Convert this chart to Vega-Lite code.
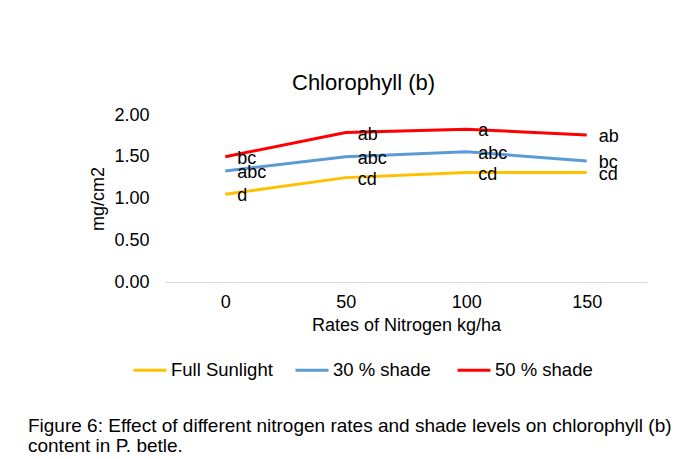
{
  "$schema": "https://vega.github.io/schema/vega-lite/v6.json",
  "background": "white",
  "padding": {"left": 27, "top": 72, "right": 5, "bottom": 5},
  "title": {
    "text": ["Figure 6: Effect of different nitrogen rates and shade levels on chlorophyll (b)", "content in P. betle."],
    "orient": "bottom",
    "anchor": "start",
    "frame": "bounds",
    "dx": -62,
    "fontSize": 19,
    "fontWeight": "normal",
    "color": "#000000",
    "lineHeight": 20,
    "offset": 37
  },
  "vconcat": [
    {
      "width": 482,
      "height": 167,
      "title": {"text": "Chlorophyll (b)", "anchor": "start", "frame": "group", "dx": 127, "offset": 11, "fontSize": 22, "fontWeight": "normal", "color": "#000000"},
      "data": {
        "values": [
          {"N": "0", "series": "Full Sunlight", "value": 1.05, "sig": "d"},
          {"N": "50", "series": "Full Sunlight", "value": 1.25, "sig": "cd"},
          {"N": "100", "series": "Full Sunlight", "value": 1.31, "sig": "cd"},
          {"N": "150", "series": "Full Sunlight", "value": 1.31, "sig": "cd"},
          {"N": "0", "series": "30 % shade", "value": 1.33, "sig": "abc"},
          {"N": "50", "series": "30 % shade", "value": 1.5, "sig": "abc"},
          {"N": "100", "series": "30 % shade", "value": 1.56, "sig": "abc"},
          {"N": "150", "series": "30 % shade", "value": 1.45, "sig": "bc"},
          {"N": "0", "series": "50 % shade", "value": 1.5, "sig": "bc"},
          {"N": "50", "series": "50 % shade", "value": 1.79, "sig": "ab"},
          {"N": "100", "series": "50 % shade", "value": 1.83, "sig": "a"},
          {"N": "150", "series": "50 % shade", "value": 1.76, "sig": "ab"}
        ]
      },
      "encoding": {
        "x": {
          "field": "N", "type": "ordinal", "sort": ["0", "50", "100", "150"],
          "scale": {"type": "point", "padding": 0.5},
          "axis": {"title": "Rates of Nitrogen kg/ha", "labelAngle": 0, "ticks": false, "domainColor": "#d9d9d9", "domainWidth": 1, "labelPadding": 11, "titlePadding": 5, "grid": false}
        },
        "y": {
          "field": "value", "type": "quantitative",
          "scale": {"domain": [0, 2], "nice": false, "zero": true},
          "axis": {"title": "mg/cm2", "values": [0, 0.5, 1, 1.5, 2], "format": ".2f", "ticks": false, "domain": false, "grid": false, "labelPadding": 16, "titlePadding": 6}
        }
      },
      "layer": [
        {
          "mark": {"type": "line", "strokeWidth": 3},
          "encoding": {
            "color": {
              "field": "series", "type": "nominal",
              "scale": {"domain": ["Full Sunlight", "30 % shade", "50 % shade"], "range": ["#FFC000", "#5B9BD5", "#FF0000"]},
              "legend": {"orient": "none", "legendX": -33, "legendY": 237, "direction": "horizontal", "title": null, "symbolType": "stroke", "symbolSize": 1089, "symbolStrokeWidth": 3, "labelFontSize": 18.5, "labelColor": "#000000", "columnPadding": 16, "gridAlign": "all", "labelOffset": 3}
            }
          }
        },
        {
          "mark": {"type": "text", "align": "left", "baseline": "middle", "dx": 12, "dy": 2, "fontSize": 18, "color": "#000000"},
          "encoding": {"text": {"field": "sig"}}
        }
      ]
    }
  ],
  "config": {
    "font": "Liberation Sans",
    "view": {"stroke": null},
    "axis": {"labelFontSize": 18, "labelColor": "#000000", "titleFontSize": 18, "titleFontWeight": "normal", "titleColor": "#000000"},
    "title": {"font": "Liberation Sans"}
  }
}
